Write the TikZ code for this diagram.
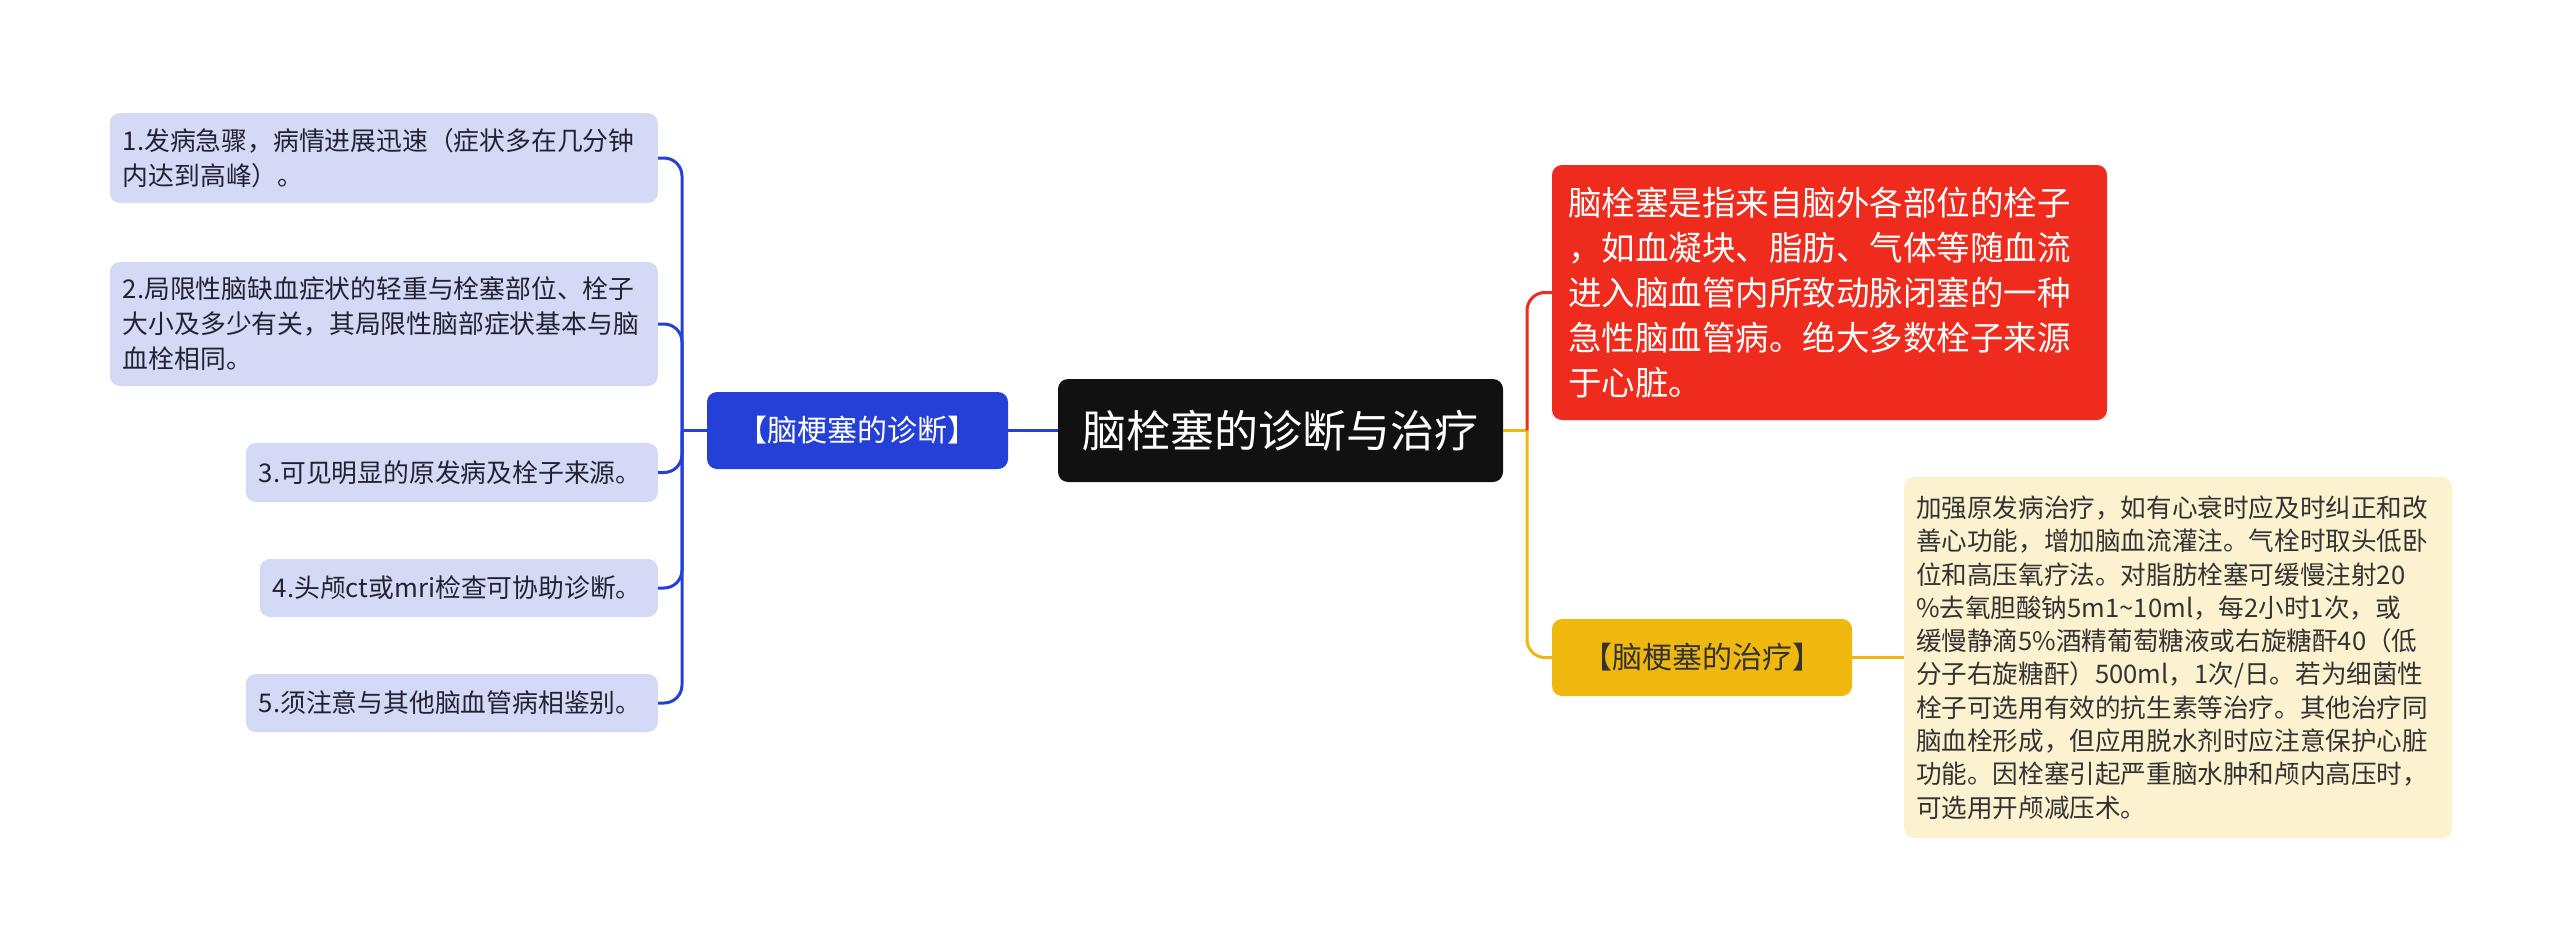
\documentclass[tikz,border=0pt]{standalone}
\usepackage{fontspec}
\newfontfamily\cjk{Noto Sans CJK SC}
\definecolor{leaffill}{HTML}{D4D9F6}
\definecolor{leaftext}{HTML}{222233}
\definecolor{diagblue}{HTML}{2540D6}
\definecolor{rootfill}{HTML}{111111}
\definecolor{redfill}{HTML}{EE2B1C}
\definecolor{treatgold}{HTML}{F0B80E}
\definecolor{notefill}{HTML}{FDF2D0}
\definecolor{notetext}{HTML}{333333}
\begin{document}
\begin{tikzpicture}[x=1pt,y=-1pt,
  leaf/.style={fill=leaffill,rounded corners=10pt,anchor=east,align=left,
    inner xsep=13pt,inner ysep=0pt,text=leaftext,font=\cjk\fontsize{25.8}{35}\selectfont},
  branch/.style={rounded corners=10pt,align=center,inner sep=0pt,
    minimum width=300pt,minimum height=77pt,font=\cjk\fontsize{30}{36}\selectfont},
  bluelink/.style={draw=diagblue,line width=3pt,rounded corners=18pt},
  redlink/.style={draw=redfill,line width=3pt,rounded corners=18pt},
  goldlink/.style={draw=treatgold,line width=3pt,rounded corners=18pt}]
\useasboundingbox[fill=white] (0,0) rectangle (2560,950);

% centre
\node[fill=rootfill,rounded corners=10pt,text=white,inner sep=0pt,
  minimum width=445pt,minimum height=103pt,
  font=\cjk\fontsize{44}{52}\selectfont] (root) at (1280.5,430.5) {脑栓塞的诊断与治疗};

% left: diagnosis
\node[branch,fill=diagblue,text=white,minimum width=301pt] (diag) at (857.5,430.5) {【脑梗塞的诊断】};

\node[leaf,text width=522pt,minimum height=90pt] (sym1) at (658,158) {1.发病急骤，病情进展迅速（症状多在几分钟\\内达到高峰）。};
\node[leaf,text width=522pt,minimum height=124pt] (sym2) at (658,324) {2.局限性脑缺血症状的轻重与栓塞部位、栓子\\大小及多少有关，其局限性脑部症状基本与脑\\血栓相同。};
\node[leaf,text width=386pt,minimum height=59pt] (sym3) at (658,472.5) {3.可见明显的原发病及栓子来源。};
\node[leaf,text width=372pt,minimum height=58pt] (sym4) at (658,588) {4.头颅ct或mri检查可协助诊断。};
\node[leaf,text width=386pt,minimum height=58pt] (sym5) at (658,703) {5.须注意与其他脑血管病相鉴别。};

\coordinate (ltrunk) at (682,430.5);
\draw[bluelink] (root.west) -- (diag.east);
\draw[bluelink] (diag.west) -- (ltrunk);
\foreach \s in {sym1,sym2,sym3,sym4,sym5}
  \draw[bluelink] (ltrunk) |- (\s.east);

% right: definition and treatment
\node[fill=redfill,rounded corners=10pt,text=white,align=left,inner xsep=16pt,inner ysep=0pt,
  text width=523pt,minimum height=255pt,
  font=\cjk\fontsize{33.5}{45}\selectfont] (defn) at (1829.5,292.5)
  {脑栓塞是指来自脑外各部位的栓子\\，如血凝块、脂肪、气体等随血流\\进入脑血管内所致动脉闭塞的一种\\急性脑血管病。绝大多数栓子来源\\于心脏。};

\node[branch,fill=treatgold,text=notetext] (treat) at (1702,657.5) {【脑梗塞的治疗】};

\node[fill=notefill,rounded corners=10pt,text=notetext,align=left,inner xsep=12pt,inner ysep=0pt,
  text width=524pt,minimum height=361pt,
  font=\cjk\fontsize{25.6}{33.3}\selectfont] (note) at (2178,657.5)
  {加强原发病治疗，如有心衰时应及时纠正和改\\善心功能，增加脑血流灌注。气栓时取头低卧\\位和高压氧疗法。对脂肪栓塞可缓慢注射20\\\%去氧胆酸钠5m1\textasciitilde10ml，每2小时1次，或\\缓慢静滴5\%酒精葡萄糖液或右旋糖酐40（低\\分子右旋糖酐）500ml，1次/日。若为细菌性\\栓子可选用有效的抗生素等治疗。其他治疗同\\脑血栓形成，但应用脱水剂时应注意保护心脏\\功能。因栓塞引起严重脑水肿和颅内高压时，\\可选用开颅减压术。};

\coordinate (rtrunk) at (1527,430.5);
\draw[goldlink] (root.east) -- (rtrunk);
\draw[redlink] (rtrunk) |- (defn.west);
\draw[goldlink] (rtrunk) |- (treat.west);
\draw[goldlink] (treat.east) -- (note.west);
\end{tikzpicture}
\end{document}
